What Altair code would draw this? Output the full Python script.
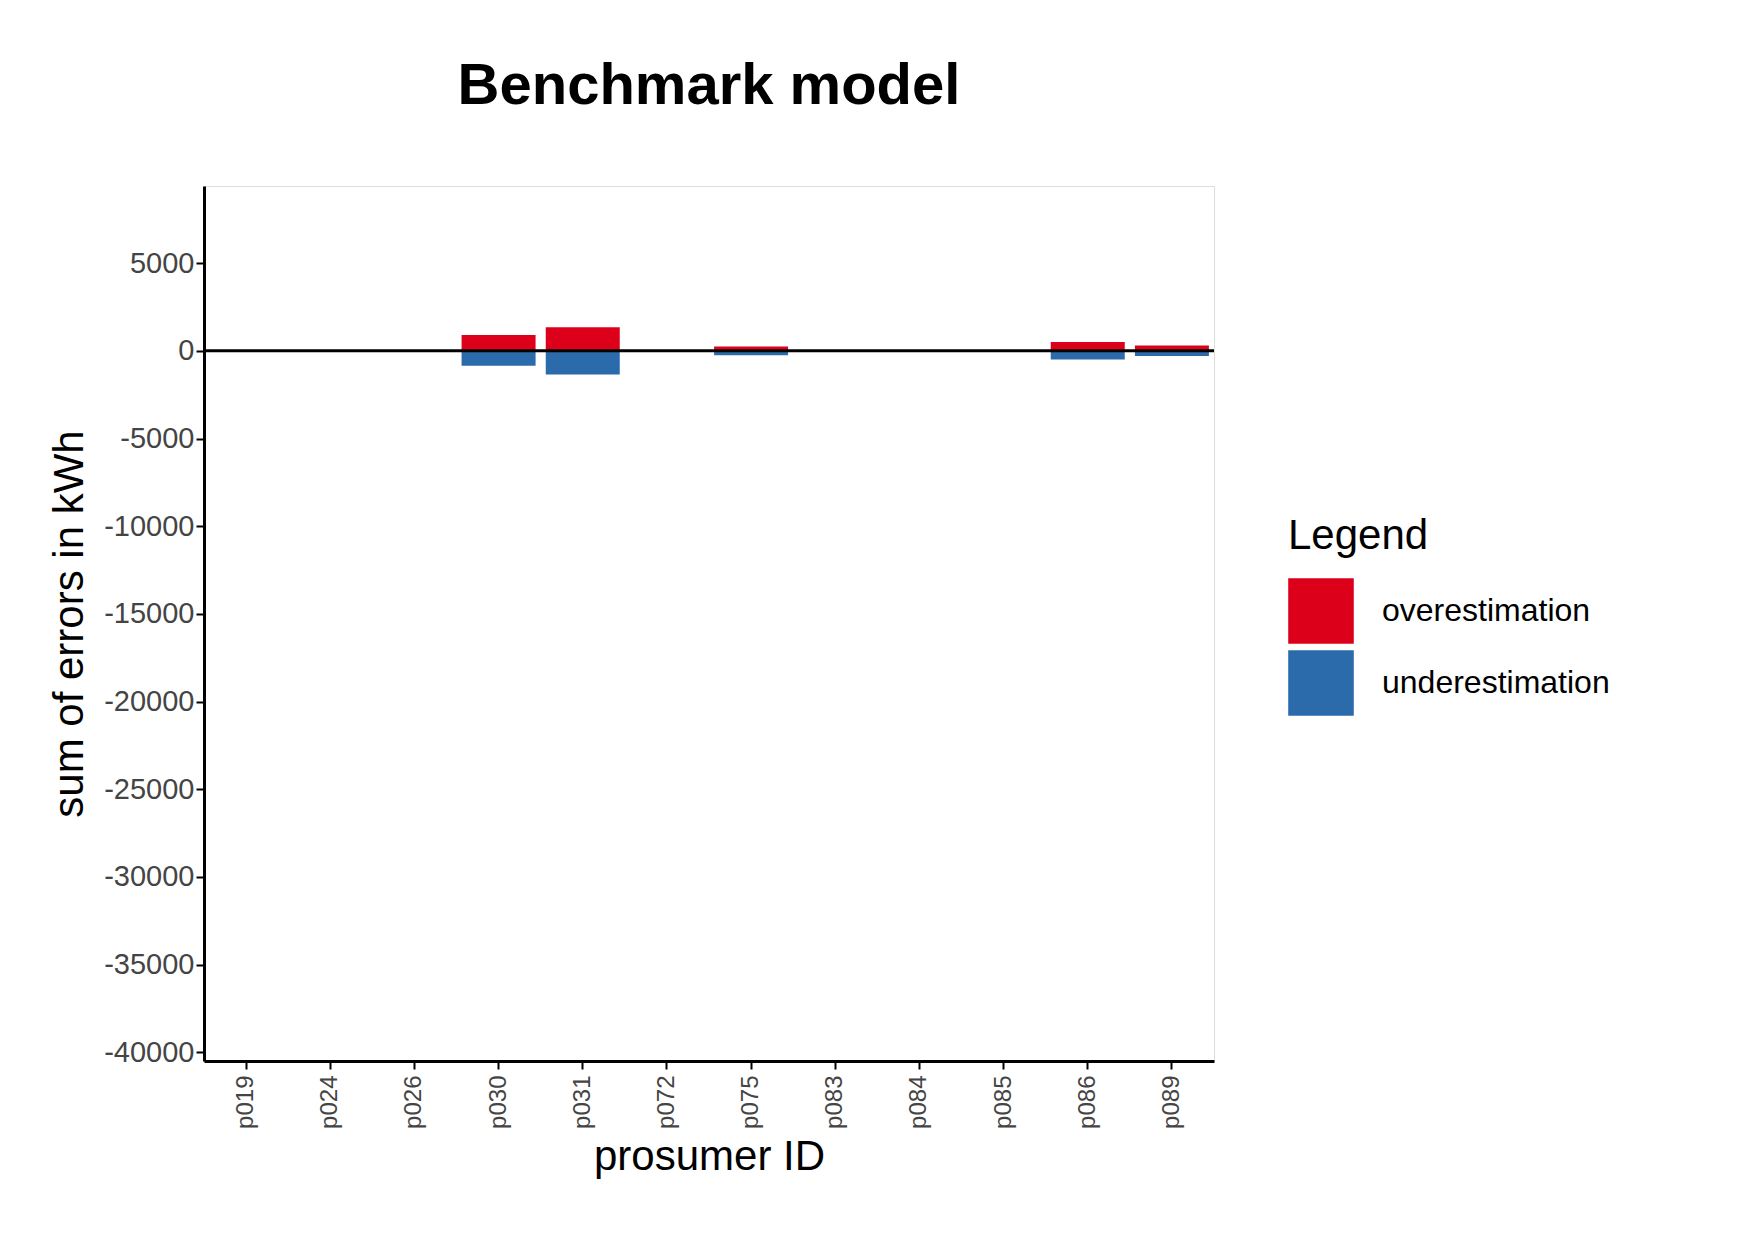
import altair as alt
import pandas as pd

ids = ["p019","p024","p026","p030","p031","p072","p075","p083","p084","p085","p086","p089"]
over = [0,0,0,900,1350,0,250,0,0,0,500,300]
under = [0,0,0,-850,-1350,0,-250,0,0,0,-500,-300]

rows = []
for i,o,u in zip(ids,over,under):
    rows.append({"id":i,"type":"overestimation","v":o})
    rows.append({"id":i,"type":"underestimation","v":u})
df = pd.DataFrame(rows)

bars = alt.Chart(df).mark_bar(size=74).encode(
    x=alt.X("id:N", sort=ids, title="prosumer ID",
            axis=alt.Axis(labelAngle=-90, labelFontSize=24, titleFontSize=42, titleFontWeight="normal",
                          labelColor="#444", domainColor="black", domainWidth=3, tickColor="black",
                          tickWidth=2, tickSize=8, labelPadding=6, titlePadding=8)),
    y=alt.Y("v:Q", title="sum of errors in kWh",
            scale=alt.Scale(domain=[-40500, 9400], nice=False),
            axis=alt.Axis(values=list(range(-40000, 5001, 5000)), grid=False, labelFontSize=29,
                          labelExpr="'' + datum.value",
                          titleFontSize=42, titleFontWeight="normal", labelColor="#444",
                          domainColor="black", domainWidth=3, tickColor="black", tickWidth=2,
                          tickSize=8, titlePadding=12)),
    color=alt.Color("type:N", title="Legend",
                    scale=alt.Scale(domain=["overestimation","underestimation"], range=["#DC001A","#2B6BAB"]),
                    legend=alt.Legend(symbolType="square", symbolSize=4300, symbolStrokeWidth=0,
                                      labelFontSize=32, titleFontSize=42, titleFontWeight="normal",
                                      labelLimit=400, rowPadding=6, labelOffset=28, titlePadding=20,
                                      orient="none", legendX=1084, legendY=330))
)
zero = alt.Chart(pd.DataFrame({"y":[0]})).mark_rule(color="black", strokeWidth=3).encode(y="y:Q")

chart = (bars + zero).properties(
    width=1010, height=875,
    padding={"top": 50, "left": 40, "right": 10, "bottom": 10},
    title=alt.TitleParams("Benchmark model", fontSize=58, fontWeight="bold", offset=70, anchor="middle")
).configure_view(strokeWidth=0, stroke="transparent").configure(font="Liberation Sans")

chart.save("out.html", embed_options={"renderer": "svg", "actions": False})
